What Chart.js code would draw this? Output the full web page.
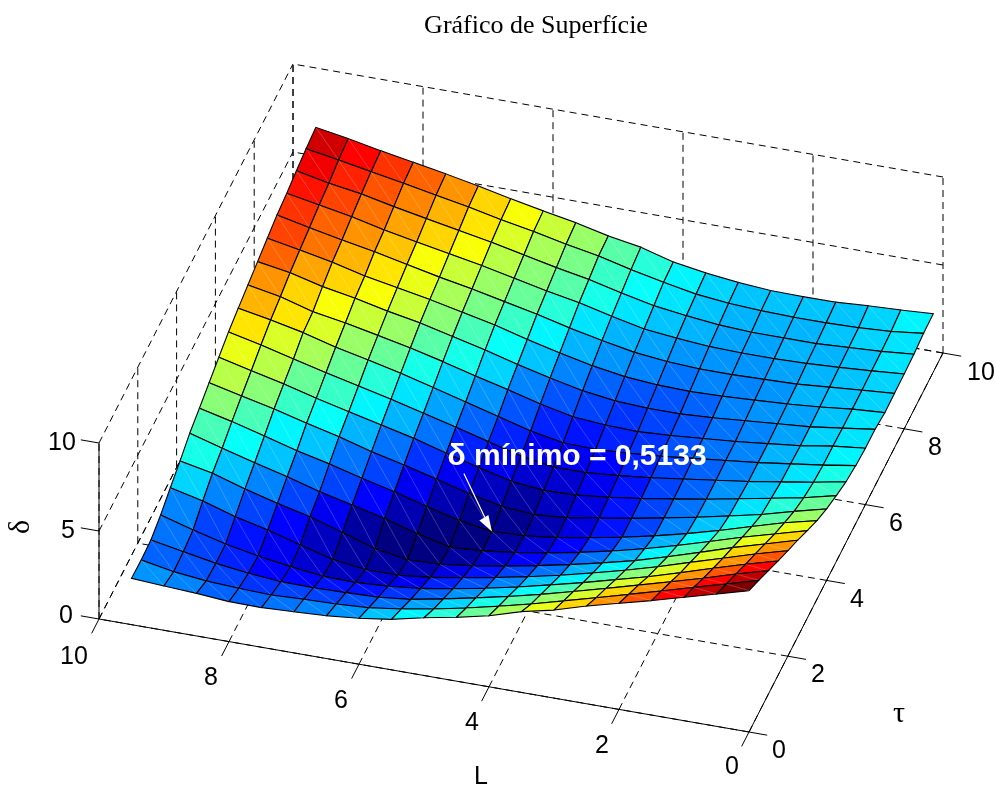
<!DOCTYPE html>
<html>
<head>
<meta charset="utf-8">
<title>Gráfico de Superfície</title>
<script src="https://cdn.jsdelivr.net/npm/chart.js"></script>
<style>
  body { margin: 0; background: #fff; }
  canvas { display: block; }
</style>
</head>
<body>
<canvas id="myChart" width="996" height="785"></canvas>
<script>
var lValues = [0,0.5,1,1.5,2,2.5,3,3.5,4,4.5,5,5.5,6,6.5,7,7.5,8,8.5,9,9.5];
var tauValues = [0,0.5,1,1.5,2,2.5,3,3.5,4,4.5,5,5.5,6,6.5,7,7.5,8,8.5,9,9.5];
// one row per tau, one column per L
var deltaValues = [
  [8.03,7.52,7.01,6.50,6.03,5.55,5.00,4.59,4.04,3.63,3.28,2.87,2.61,2.43,2.34,2.25,2.27,2.42,2.52,2.63],
  [7.54,7.01,6.50,5.97,5.46,4.95,4.45,3.95,3.50,3.08,2.70,2.38,2.13,2.02,1.97,1.89,1.95,2.05,2.25,2.60],
  [7.01,6.50,5.94,5.42,4.91,4.40,3.90,3.42,2.98,2.58,2.20,1.85,1.65,1.59,1.55,1.57,1.73,1.97,2.31,2.66],
  [6.49,5.98,5.43,4.86,4.31,3.82,3.33,2.88,2.44,2.05,1.70,1.40,1.20,1.10,1.12,1.35,1.63,1.99,2.47,3.00],
  [5.99,5.49,4.92,4.37,3.80,3.28,2.80,2.35,1.95,1.58,1.25,0.95,0.75,0.75,1.00,1.50,2.03,2.47,3.04,3.47],
  [5.51,4.98,4.45,3.86,3.29,2.75,2.30,1.88,1.50,1.15,0.85,0.62,0.55,0.85,1.45,2.03,2.47,2.97,3.54,3.91],
  [4.98,4.47,3.96,3.40,2.85,2.35,1.90,1.50,1.15,0.85,0.62,0.5133,0.95,1.50,1.94,2.38,2.91,3.38,3.88,4.41],
  [4.47,4.03,3.50,2.95,2.45,2.00,1.60,1.25,0.95,0.72,0.65,0.95,1.42,1.94,2.38,2.88,3.31,3.82,4.32,4.76],
  [4.06,3.60,3.10,2.70,2.30,1.95,1.60,1.30,1.00,0.85,1.00,1.40,1.90,2.38,2.82,3.35,3.79,4.28,4.70,5.13],
  [3.74,3.30,2.95,2.60,2.25,1.95,1.65,1.40,1.20,1.15,1.35,1.80,2.30,2.82,3.26,3.69,4.13,4.63,5.06,5.50],
  [3.45,3.10,2.80,2.50,2.25,2.00,1.75,1.55,1.40,1.40,1.70,2.20,2.70,3.17,3.64,4.08,4.51,4.97,5.44,5.86],
  [3.29,3.00,2.75,2.50,2.30,2.10,1.90,1.75,1.65,1.70,2.05,2.55,3.05,3.55,4.04,4.48,4.88,5.39,5.79,6.13],
  [3.20,3.00,2.70,2.50,2.30,2.15,2.00,1.90,1.95,2.10,2.50,3.00,3.45,3.95,4.40,4.80,5.18,5.50,6.03,6.38],
  [3.20,2.95,2.70,2.55,2.40,2.25,2.15,2.15,2.25,2.50,2.90,3.35,3.85,4.30,4.75,5.10,5.51,5.85,6.32,6.63],
  [3.07,2.95,2.75,2.60,2.50,2.40,2.35,2.40,2.55,2.85,3.25,3.70,4.20,4.60,5.00,5.35,5.70,6.16,6.53,6.88],
  [3.09,2.95,2.80,2.65,2.60,2.55,2.55,2.65,2.85,3.20,3.60,4.05,4.45,4.85,5.20,5.60,6.00,6.35,6.72,7.13],
  [3.11,2.97,2.85,2.75,2.70,2.70,2.75,2.90,3.10,3.50,3.95,4.30,4.70,5.10,5.45,5.80,6.16,6.59,6.94,7.28],
  [3.16,3.00,2.90,2.80,2.80,2.80,2.90,3.10,3.35,3.75,4.20,4.55,4.95,5.35,5.70,6.05,6.41,6.81,7.10,7.49],
  [3.27,3.05,2.95,2.90,2.90,2.95,3.05,3.25,3.60,4.00,4.45,4.80,5.20,5.55,5.95,6.30,6.66,7.00,7.34,7.66],
  [3.31,3.20,3.12,3.00,2.99,3.02,3.16,3.38,3.68,4.20,4.52,4.95,5.30,5.67,6.07,6.44,6.78,7.11,7.48,7.80]
];
var lTicks = [0,2,4,6,8,10];
var tauTicks = [0,2,4,6,8,10];
var deltaTicks = [0,5,10];

// fixed view of the 3D box, the result is in canvas units
function project(l, tau, delta) {
  return {
    x: 749 - 65 * l + 19.4 * tau,
    y: 732 - 11.3 * l - 37.9 * tau - 17.6 * delta
  };
}

function jet(delta) {
  var t = (delta - 0.5133) / (8.03 - 0.5133);
  t = Math.min(63, Math.floor(t * 64)) / 63;
  function ch(c) { return Math.round(255 * Math.max(0, Math.min(1, 1.5 - Math.abs(4 * t - c)))); }
  return "rgb(" + ch(3) + "," + ch(2) + "," + ch(1) + ")";
}

function seg(a, b, dashed) {
  return {
    data: [project(a[0], a[1], a[2]), project(b[0], b[1], b[2])],
    showLine: true,
    borderColor: "#000",
    borderWidth: 1,
    borderDash: dashed ? [7, 5] : [],
    pointRadius: 0,
    fill: false
  };
}

var front = [];  // axes and ticks
var grid = [];   // dashed box behind the surface
lTicks.forEach(function (l) {
  grid.push(seg([l, 0, 0], [l, 10, 0], true));
  grid.push(seg([l, 10, 0], [l, 10, 10], true));
  front.push(seg([l, 0, 0], [l, -0.38, 0], false));
});
tauTicks.forEach(function (t) {
  grid.push(seg([0, t, 0], [10, t, 0], true));
  grid.push(seg([10, t, 0], [10, t, 10], true));
  front.push(seg([0, t, 0], [-0.28, t, 0], false));
});
deltaTicks.forEach(function (d) {
  grid.push(seg([0, 10, d], [10, 10, d], true));
  grid.push(seg([10, 0, d], [10, 10, d], true));
  front.push(seg([10, 0, d], [10.28, 0, d], false));
});
front.push(seg([0, 0, 0], [10, 0, 0], false));
front.push(seg([0, 0, 0], [0, 10, 0], false));
front.push(seg([10, 0, 0], [10, 0, 10], false));

// surface cells, nearest first because chart.js paints the first dataset last
var cells = [];
for (var s = 0; s <= 36; s++) {
  for (var j = 0; j < 19; j++) {
    var i = s - j;
    if (i < 0 || i >= 19) continue;
    var a = project(lValues[i], tauValues[j], deltaValues[j][i]);
    var b = project(lValues[i + 1], tauValues[j], deltaValues[j][i + 1]);
    var c = project(lValues[i + 1], tauValues[j + 1], deltaValues[j + 1][i + 1]);
    var d = project(lValues[i], tauValues[j + 1], deltaValues[j + 1][i]);
    cells.push({
      data: [c, a],
      showLine: true,
      borderColor: "rgba(255,255,255,0.3)",
      borderWidth: 0.7,
      pointRadius: 0,
      fill: false
    });
    cells.push({
      data: [a, b, c, d, a],
      showLine: true,
      borderColor: "#000",
      borderWidth: 1.1,
      backgroundColor: jet(deltaValues[j][i]),
      pointRadius: 0,
      fill: "shape"
    });
  }
}

function put(ctx, text, x, y, font, color, angle) {
  ctx.save();
  ctx.translate(x, y);
  if (angle) ctx.rotate(angle);
  ctx.font = font;
  ctx.fillStyle = color || "#000";
  ctx.textAlign = "center";
  ctx.textBaseline = "middle";
  ctx.fillText(text, 0, 0);
  ctx.restore();
}

var labelsPlugin = {
  id: "labels",
  afterDraw: function (chart) {
    var ctx = chart.ctx;
    var sans = "25px 'Liberation Sans'";
    var serif = "26px 'Liberation Serif'";
    var symbol = "30px 'Liberation Serif'";
    put(ctx, "Gráfico de Superfície", 536, 26, serif);
    put(ctx, "10", 62, 443, sans);
    put(ctx, "5", 68, 531, sans);
    put(ctx, "0", 66, 616, sans);
    put(ctx, "10", 74, 657, sans);
    put(ctx, "8", 211, 678, sans);
    put(ctx, "6", 341, 701, sans);
    put(ctx, "4", 472, 723, sans);
    put(ctx, "2", 602, 746, sans);
    put(ctx, "0", 732, 767, sans);
    put(ctx, "0", 779, 751, sans);
    put(ctx, "2", 818, 675, sans);
    put(ctx, "4", 857, 600, sans);
    put(ctx, "6", 896, 524, sans);
    put(ctx, "8", 935, 448, sans);
    put(ctx, "10", 981, 373, sans);
    put(ctx, "L", 481, 777, sans);
    put(ctx, "τ", 899, 714, symbol);
    put(ctx, "δ", 21, 527, symbol, "#000", -Math.PI / 2);
    put(ctx, "δ mínimo = 0,5133", 577, 457, "bold 30px 'Liberation Sans'", "#fff");

    // arrow to the minimum
    var tip = project(lValues[10], tauValues[7], deltaValues[7][10]);
    ctx.save();
    ctx.strokeStyle = "#fff";
    ctx.fillStyle = "#fff";
    ctx.lineWidth = 1.2;
    ctx.beginPath();
    ctx.moveTo(tip.x - 28, tip.y - 58);
    ctx.lineTo(tip.x - 7, tip.y - 14);
    ctx.stroke();
    ctx.beginPath();
    ctx.moveTo(tip.x, tip.y);
    ctx.lineTo(tip.x - 12.5, tip.y - 11);
    ctx.lineTo(tip.x - 3.5, tip.y - 16.5);
    ctx.closePath();
    ctx.fill();
    ctx.restore();
  }
};

new Chart("myChart", {
  type: "scatter",
  data: { datasets: front.concat(cells, grid) },
  options: {
    responsive: false,
    animation: false,
    events: [],
    layout: { padding: 0 },
    elements: { line: { tension: 0 } },
    plugins: { legend: { display: false }, tooltip: { enabled: false } },
    scales: {
      x: { type: "linear", min: 0, max: 996, display: false },
      y: { type: "linear", min: 0, max: 785, reverse: true, display: false }
    }
  },
  plugins: [labelsPlugin]
});
</script>
</body>
</html>
